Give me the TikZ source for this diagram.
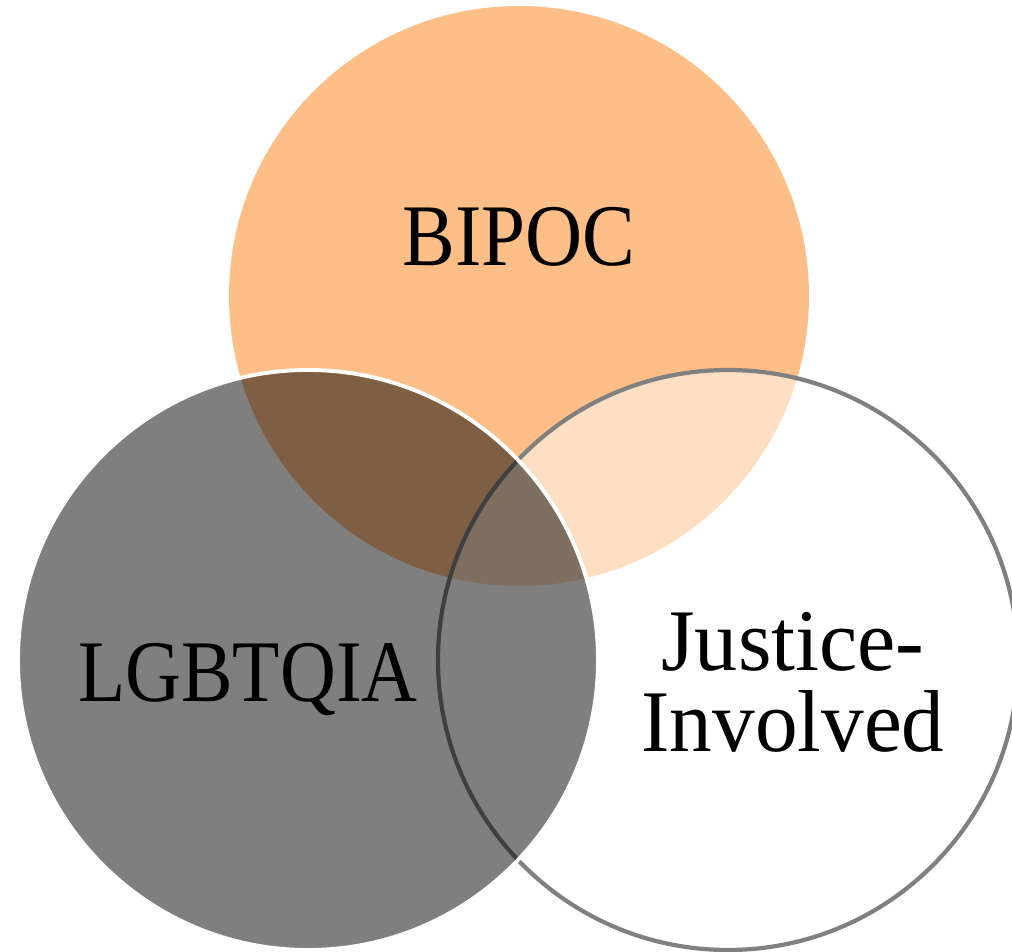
\documentclass[tikz,border=0pt]{standalone}
\usepackage{fontspec}
\usepackage{graphicx}
\setmainfont{Liberation Serif}
\definecolor{bipoc}{RGB}{253,191,135}
\definecolor{ringgray}{RGB}{128,128,128}
\tikzset{
  venn/.style={circle, minimum size=5.8cm, inner sep=0pt, outer sep=0pt},
  lbl/.style={font=\fontsize{25}{23}\selectfont, align=center, inner sep=0pt, text=black}
}
\begin{document}
\begin{tikzpicture}
\useasboundingbox (0,0) rectangle (10.12,9.52);
% BIPOC circle
\node[venn, fill=bipoc] (bipoc) at (5.19,6.56) {};
% Justice-involved circle
\node[venn, fill=white, fill opacity=0.5] (justice) at (7.28,2.92) {};
\node[venn, draw=ringgray, line width=1.2pt] (justiceline) at (7.28,2.92) {};
% LGBTQIA circle
\node[venn, fill=black, fill opacity=0.5, draw=white, draw opacity=1, line width=1.1pt] (lgbt) at (3.08,2.92) {};
% labels
\node[lbl] (tb) at (5.19,7.15) {\scalebox{0.9}[1]{BIPOC}};
\node[lbl] (tl) at (2.48,2.72) {\scalebox{0.88}[1]{LGBTQIA}};
\node[lbl] (tj) at (7.93,2.70) {\scalebox{0.98}[1]{Justice-}\\\scalebox{0.97}[1]{Involved}};
\end{tikzpicture}
\end{document}
